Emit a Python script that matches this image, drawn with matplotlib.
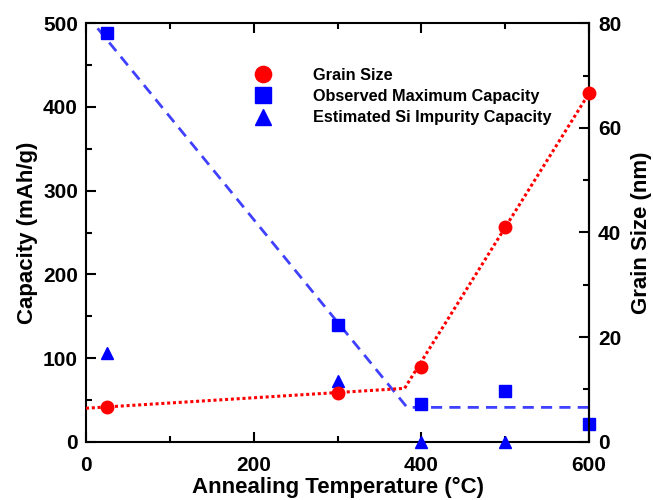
import matplotlib
matplotlib.use("Agg")
from matplotlib import pyplot as plt
from matplotlib.ticker import MultipleLocator

plt.rcParams['font.family'] = ['Liberation Sans', 'DejaVu Sans']
plt.rcParams['font.weight'] = 'bold'

# Measured data
temps = [25, 300, 400, 500, 600]
grain_size = [6.6, 9.4, 14.3, 41.0, 66.6]
max_capacity = [489, 140, 45, 61, 21]
si_temps = [25, 300, 400, 500]
si_capacity = [106, 72, 0, 0]

# Guide lines (piecewise linear)
cap_fit_temps = [0, 383, 600]
capacity_fit = [511, 41, 41]
grain_fit_temps = [0, 380, 600]
grain_fit = [6.4, 10.2, 66.6]

fig = plt.figure(figsize=(6.53, 5.0), dpi=100)
ax = fig.add_axes([0.1317, 0.1166, 0.7703, 0.8368])
ax2 = ax.twinx()
# only keep the right spine on the twin so markers can sit on top of the bottom spine
for side in ("left", "top", "bottom"):
    ax2.spines[side].set_visible(False)

# capacity (left axis)
ax.plot(cap_fit_temps, capacity_fit, color="#4040ff", lw=2, dashes=(4, 2.6), zorder=2)
sq, = ax.plot(temps, max_capacity, "s", color="#0000ff", ms=8.5, ls="none",
              label="Observed Maximum Capacity", zorder=3, clip_on=False)
tri, = ax.plot(si_temps, si_capacity, "^", color="#0000ff", ms=8.5, ls="none",
               label="Estimated Si Impurity Capacity", zorder=3, clip_on=False)

# grain size (right axis)
ax2.plot(grain_fit_temps, grain_fit, color="#ff0000", lw=2.2, ls=(0, (1, 0.9)), zorder=2)
circ, = ax2.plot(temps, grain_size, "o", color="#ff0000", ms=9, ls="none",
                 label="Grain Size", zorder=3, clip_on=False)

ax.set_xlim(0, 600)
ax.set_ylim(0, 500)
ax2.set_ylim(0, 80)

ax.xaxis.set_major_locator(MultipleLocator(200))
ax.xaxis.set_minor_locator(MultipleLocator(100))
ax.yaxis.set_major_locator(MultipleLocator(100))
ax.yaxis.set_minor_locator(MultipleLocator(50))
ax2.yaxis.set_major_locator(MultipleLocator(20))
ax2.yaxis.set_minor_locator(MultipleLocator(10))

for a in (ax, ax2):
    for s in a.spines.values():
        s.set_linewidth(1.5)
    a.tick_params(which="major", length=7, width=1.5)
    a.tick_params(which="minor", length=4, width=1.5)
ax.tick_params(axis="x", which="both", direction="in", top=True, labelsize=15, pad=10)
ax.tick_params(axis="y", which="both", direction="in", labelsize=15, pad=5.8)
ax2.tick_params(axis="y", which="both", direction="in", labelsize=15, pad=6.5)

ax.set_xlabel("Annealing Temperature (\u00b0C)", fontsize=16, fontweight="bold", labelpad=2)
ax.set_ylabel("Capacity (mAh/g)", fontsize=16, fontweight="bold", labelpad=3.5)
ax2.set_ylabel("Grain Size (nm)", fontsize=16, fontweight="bold", labelpad=7)

leg = ax2.legend(handles=[circ, sq, tri], loc="upper left", bbox_to_anchor=(0.29, 0.929),
                 frameon=False, fontsize=11.7, markerscale=1.3, handletextpad=2.1,
                 labelspacing=0.39)

fig.savefig("out.png", dpi=100)
